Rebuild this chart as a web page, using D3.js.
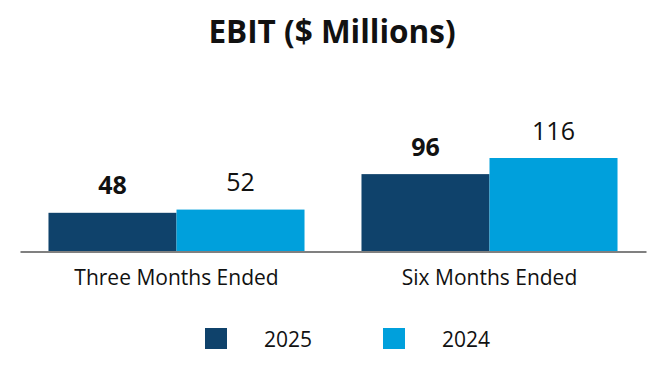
<!DOCTYPE html>
<html>
<head>
<meta charset="utf-8">
<style>
  body { margin: 0; background: #fff; }
  text { font-family: "Open Sans", sans-serif; fill: #111; }
</style>
</head>
<body>
<svg width="666" height="380"></svg>
<script src="https://cdn.jsdelivr.net/npm/d3@7"></script>
<script>
// chart data
const categories = ["Three Months Ended", "Six Months Ended"];
const seriesNames = ["2025", "2024"];
const values2025 = [48, 96];
const values2024 = [52, 116];
const colors = ["#0f426b", "#00a0dc"];

var svg = d3.select("svg");

var x0 = d3.scaleBand()
    .domain(categories)
    .range([20, 646])
    .paddingInner(0.182)
    .paddingOuter(0.091);

var x1 = d3.scaleBand()
    .domain(seriesNames)
    .range([0, x0.bandwidth()]);

var y = d3.scaleLinear()
    .domain([0, 116])
    .range([251.5, 158]);

var rows = [];
categories.forEach(function(c, i) {
  rows.push({cat: c, series: "2025", value: values2025[i], bold: true});
  rows.push({cat: c, series: "2024", value: values2024[i], bold: false});
});

var color = d3.scaleOrdinal().domain(seriesNames).range(colors);

// title
svg.append("text")
    .attr("x", 332)
    .attr("y", 43)
    .attr("text-anchor", "middle")
    .style("font-size", "31.5px")
    .style("font-weight", "bold")
    .text("EBIT ($ Millions)");

// bars
svg.append("g").selectAll("rect")
  .data(rows)
  .enter().append("rect")
    .attr("x", function(d) { return x0(d.cat) + x1(d.series); })
    .attr("y", function(d) { return y(d.value); })
    .attr("width", x1.bandwidth())
    .attr("height", function(d) { return y(0) - y(d.value); })
    .attr("fill", function(d) { return color(d.series); });

// value labels
svg.append("g").selectAll("text")
  .data(rows)
  .enter().append("text")
    .attr("x", function(d) { return x0(d.cat) + x1(d.series) + x1.bandwidth() / 2; })
    .attr("y", function(d) { return y(d.value) - 18.5; })
    .attr("text-anchor", "middle")
    .style("font-size", "25px")
    .style("font-weight", function(d) { return d.bold ? "bold" : "normal"; })
    .text(function(d) { return d.value; });

// baseline + category labels
var xAxis = svg.append("g")
    .attr("transform", "translate(0," + y(0) + ")")
    .call(d3.axisBottom(x0).tickSize(0).tickPadding(18.5));
xAxis.select(".domain").attr("stroke", "#808080").attr("stroke-width", 2);
xAxis.selectAll("text")
    .style("font-family", "'Open Sans', sans-serif")
    .style("font-size", "21px")
    .attr("fill", "#111");

// legend
var legendX = [205, 383];
var legend = svg.append("g").selectAll("g")
  .data(seriesNames)
  .enter().append("g")
    .attr("transform", function(d, i) { return "translate(" + legendX[i] + ",328)"; });
legend.append("rect")
    .attr("width", 22)
    .attr("height", 21)
    .attr("fill", function(d) { return color(d); });
legend.append("text")
    .attr("x", 59)
    .attr("y", 18.5)
    .style("font-size", "21px")
    .text(function(d) { return d; });
</script>
</body>
</html>
